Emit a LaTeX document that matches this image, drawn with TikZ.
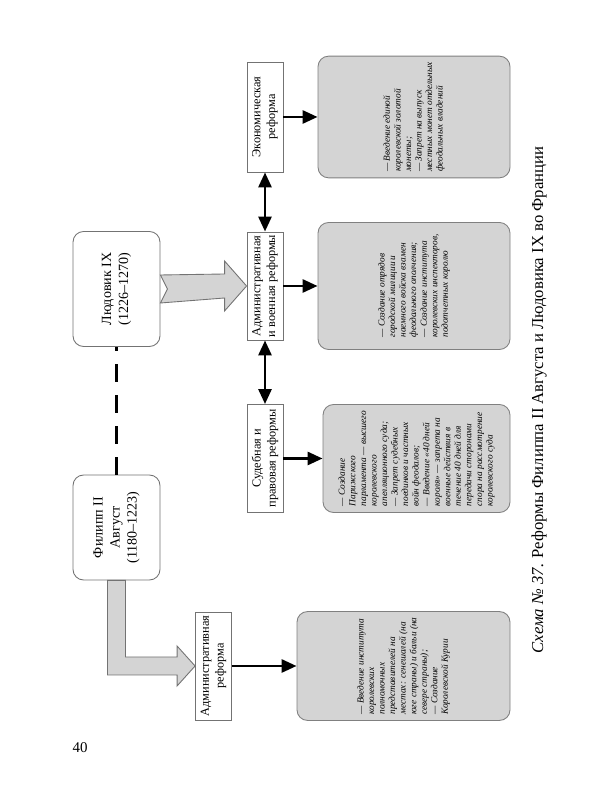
\documentclass[tikz,border=0pt]{standalone}
\usepackage{fontspec}
\setmainfont{Liberation Serif}
\usetikzlibrary{arrows.meta, calc}

\begin{document}
\begin{tikzpicture}[
    ruler/.style={
        rectangle,
        draw=black!55,
        fill=white,
        rounded corners=6pt,
        rotate=90,
        minimum height=1.74cm,
        align=center,
        font=\fontsize{8}{9.7}\selectfont,
        line width=0.5pt
    },
    reform/.style={
        rectangle,
        draw=black!55,
        fill=white,
        rotate=90,
        minimum width=2.16cm,
        minimum height=0.72cm,
        inner sep=1pt,
        align=center,
        font=\fontsize{7}{8.5}\selectfont,
        line width=0.5pt
    },
    info/.style={
        rectangle,
        draw=black!50,
        fill=black!17,
        rounded corners=6pt,
        rotate=90,
        minimum width=2.16cm,
        minimum height=3.84cm,
        align=left,
        font=\fontsize{5.3}{6}\selectfont\itshape,
        line width=0.5pt
    },
    arrow/.style={
        -{Triangle[length=3mm, width=2.6mm]},
        line width=1.6pt,
        black
    },
    twoway/.style={
        {Triangle[length=3mm, width=2.6mm]}-{Triangle[length=3mm, width=2.6mm]},
        line width=1.6pt,
        black
    },
    fat arrow/.style={
        draw=black!55,
        fill=black!17,
        line width=0.5pt,
        line join=miter
    },
    link/.style={
        line width=1.8pt,
        dash pattern=on 3.6mm off 2.6mm
    }
]

\useasboundingbox (0,0) rectangle (12,16);

% rulers
\node[ruler, minimum width=2.1cm] (phil) at (2.33,5.45) {Филипп II\\Август\\(1180–1223)};
\node[ruler, minimum width=2.3cm] (louis) at (2.33,10.22) {Людовик IX\\(1226–1270)};

% reforms
\node[reform] (admA) at (4.27,2.68) {Административная\\реформа};
\node[reform] (jud) at (5.3,6.83) {Судебная и\\правовая реформы};
\node[reform] (admB) at (5.3,10.28) {Административная\\и военная реформы};
\node[reform, minimum width=2.2cm] (econ) at (5.3,13.66) {Экономическая\\реформа};

% contents
\node[info, minimum height=4.26cm] (g1) at (8.07,2.68) {
    — Введение института\\
    королевских\\
    полномочных\\
    представителей на\\
    местах: сенешалей (на\\
    юге страны) и бальи (на\\
    севере страны);\\
    — Создание\\
    Королевской Курии
};
\node[info, minimum height=3.74cm] (g2) at (8.33,6.83) {
    — Создание\\
    Парижского\\
    парламента — высшего\\
    королевского\\
    апелляционного суда;\\
    — Запрет судебных\\
    поединков и частных\\
    войн феодалов;\\
    — Введение «40 дней\\
    короля» — запрета на\\
    военные действия в\\
    течение 40 дней для\\
    передачи сторонами\\
    спора на рассмотрение\\
    королевского суда
};
\node[info, minimum width=2.54cm] (g3) at (8.28,10.28) {
    — Создание отрядов\\
    городской милиции и\\
    наемного войска взамен\\
    феодального ополчения;\\
    — Создание института\\
    королевских инспекторов,\\
    подотчетных королю
};
\node[info, minimum width=2.36cm] (g4) at (8.28,13.66) {
    — Введение единой\\
    королевской золотой\\
    монеты;\\
    — Запрет на выпуск\\
    местных монет отдельных\\
    феодальных владений
};

\node[rotate=90, font=\fontsize{9.5}{11}\selectfont] (caption) at (10.78,8.0)
    {\textit{Схема №~37.} Реформы Филиппа II Августа и Людовика IX во Франции};
\node[font=\fontsize{8.5}{10}\selectfont] (pagenum) at (1.6,1.04) {40};

% connectors
\draw[link] (phil.east) -- (louis.west);

\draw[fat arrow] ($(phil.west)+(-0.18,0)$) -- ($(phil.west)+(0.18,0)$)
    |- ($(admA.north)+(-0.36,0.18)$) -- ++(0,0.22) -- (admA.north)
    -- ++(-0.36,-0.40) -- ++(0,0.22) -| ($(phil.west)+(-0.18,0)$) -- cycle;

\draw[fat arrow] ($(louis.south)+(0,0.28)$) -- ($(admB.north)+(-0.44,0.24)$)
    -- ++(0,0.26) -- (admB.north) -- ++(-0.44,-0.50) -- ++(0,0.26)
    -- ($(louis.south)+(0,-0.28)$) -- ($(louis.south)+(0.14,0)$) -- cycle;

\draw[arrow] (admA.south) -- (g1.north);
\draw[arrow] (jud.south) -- (g2.north);
\draw[arrow] (admB.south) -- (g3.north);
\draw[arrow] (econ.south) -- (g4.north);

\draw[twoway] (econ.west) -- (admB.east);
\draw[twoway] (admB.west) -- (jud.east);

\end{tikzpicture}
\end{document}
